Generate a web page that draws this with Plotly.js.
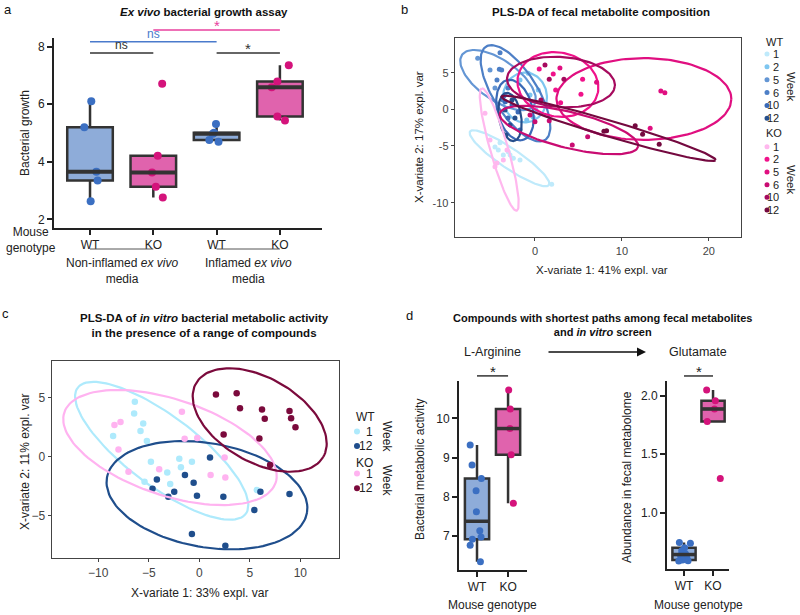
<!DOCTYPE html>
<html><head><meta charset="utf-8">
<script src="https://cdn.plot.ly/plotly-3.0.1.min.js"></script>
<style>body{margin:0;background:#fff}#chart{width:800px;height:615px}</style>
</head><body><div id="chart"></div>
<script>
// ---------------- Panel a data ----------------
const aTickText = ['WT','KO','WT','KO'];
const aWTNon = [6.10, 5.20, 3.65, 3.35, 2.63];
const aKONon = [6.71, 4.21, 3.63, 3.13, 2.76];
const aWTInf = [5.31, 5.01, 4.97, 4.76, 4.70];
const aKOInf = [7.35, 6.79, 6.59, 5.57, 5.43];
const aJitWTNon = [0.02, -0.09, 0.10, 0.12, 0.01];
const aJitKONon = [0.14, 0.07, -0.02, 0.04, 0.15];
const aJitWTInf = [-0.01, -0.04, -0.06, -0.115, 0.03];
const aJitKOInf = [0.14, -0.04, -0.13, -0.04, 0.08];
const aYTicks = [2, 4, 6, 8];

// ---------------- Panel b data (PLS-DA fecal) ----------------
const bWeeks = ['1','2','5','6','10','12'];
const bWTColors = ['#bfeafb','#7ec6f0','#6496d4','#4d7fc6','#3a69b6','#264f8c'];
const bKOColors = ['#ffb8ee','#f0128a','#e00f80','#c90c72','#a60a5e','#74093f'];
const bWTx = [
  [-4.02,-4.22,-3.64,-2.87,-2.49,-3.07,1.92,-4.60,-1.72],
  [-0.77,0.38,-0.95,-0.20,-0.57,-1.72,0.11],
  [-6.59,-5.17,-4.60,-3.45],
  [-4.02,-4.10,-3.83,-4.37,-3.68,-3.10],
  [-3.64,-3.41,-2.64,-1.95,-1.72,-3.10],
  [-3.45,-2.87,-3.33,-2.64,-2.30]
];
const bWTy = [
  [-4.58,-5.58,-6.26,-6.26,-6.71,-5.81,-10.27,-5.16,-6.95],
  [4.93,2.64,-1.47,-1.10,1.96,4.01,-0.10],
  [6.99,5.38,2.92,1.96],
  [7.75,5.48,5.38,4.01,1.27,2.92],
  [1.73,1.04,0.59,-0.37,-2.84,-1.19],
  [-0.10,-2.15,-3.52,1.27,-1.19]
];
const bKOx = [
  [-3.64,-4.37,-4.60,-5.75,-3.22,-5.17],
  [2.10,5.48,2.38,5.29,2.95,0.49],
  [14.48,14.94,13.25,7.09,2.87],
  [0.00,1.64,4.29,6.06,-0.57],
  [1.64,3.33,1.15,0.69],
  [8.24,7.93,11.53,12.38,14.29]
];
const bKOy = [
  [-6.95,-7.36,-7.86,-0.55,-5.58,-4.21],
  [4.84,4.11,2.64,2.05,0.90,5.52],
  [2.51,2.27,-2.60,3.70,5.66],
  [-1.70,-1.56,-4.89,-3.75,-0.78],
  [4.11,4.11,6.07,1.27],
  [-2.93,-3.01,-2.25,-3.42,-4.79]
];
// ellipse: centre, two conjugate semi-axis vectors (data units)
const bWTEll = [
  {c:[-2.93,-6.71], u:[4.54,-3.66], v:[-0.64,-1.14]},
  {c:[-1.15,1.62],  u:[2.53,0],     v:[0,-3.42]},
  {c:[-4.25,4.01],  u:[4.14,-3.45], v:[-1.32,-2.25]},
  {c:[-2.24,2.19],  u:[3.39,-6.40], v:[-2.14,-1.60]},
  {c:[-2.30,-0.10], u:[0.92,-4.10], v:[1.95,0.62]},
  {c:[-2.87,-1.05], u:[0.46,-3.29], v:[1.26,0.27]}
];
const bKOEll = [
  {c:[-4.11,-5.51], u:[-2.01,8.38], v:[0.99,0.33]},
  {c:[2.64,3.40],   u:[4.60,-1.10], v:[-0.72,-4.30]},
  {c:[12.53,1.41],  u:[10.06,0],    v:[0,-5.60]},
  {c:[3.91,-2.84],  u:[7.95,-2.29], v:[-0.49,-2.40]},
  {c:[2.99,3.74],   u:[6.20,-0.55], v:[-0.23,-3.42]},
  {c:[8.47,-2.61],  u:[12.30,-4.34],v:[-0.27,-1.05]}
];
const bXTicks = [0, 10, 20];
const bYTickVals = [5, 0, -5, -12.84];
const bYTickText = ['5', '0', '-5', '-10'];

// ---------------- Panel c data (PLS-DA in vitro) ----------------
const cWeeks = ['1','12'];
const cWTColors = ['#aeeafc','#1f4e8c'];
const cKOColors = ['#ffb3f0','#7b0a3c'];
const cWTx = [
  [-6.38,-6.45,-5.55,-5.82,-5.19,-8.53,-4.79,-1.98,-1.82,-0.73,-3.17,-2.88,-5.42,5.69],
  [1.06,-1.42,-4.20,-4.63,-2.48,-3.07,-0.56,-0.23,2.38,6.05,8.93,5.45,-0.73,2.58]
];
const cWTy = [
  [4.66,3.67,2.82,2.18,1.33,1.75,-0.42,-0.17,-0.90,-0.42,-1.33,-2.32,-2.12,-2.82],
  [-0.06,-1.55,-1.92,-2.71,-2.97,-3.39,-2.20,-3.31,-3.39,-2.97,-3.16,-4.52,-6.55,-7.54]
];
const cKOx = [
  [-8.40,-7.80,-8.00,-7.01,-3.97,-1.72,-1.45,-0.20,2.51,1.12,2.58],
  [1.65,3.70,4.03,6.21,6.48,8.93,9.09,9.52,2.41,5.95,7.01]
];
const cKOy = [
  [2.68,2.94,0.62,-1.27,-1.07,3.81,1.53,1.58,-0.06,-1.55,-1.75],
  [5.28,5.37,4.10,4.01,3.22,3.87,3.25,2.49,1.89,1.55,-0.71]
];
const cWTEll = [
  {c:[-3.72,0.50], u:[8.32,-5.34], v:[-2.08,-2.37]},
  {c:[0.76,-3.26], u:[9.90,-1.49], v:[-0.89,-4.34]}
];
const cKOEll = [
  {c:[-2.90,0.78], u:[10.46,-2.98], v:[-1.50,-3.86]},
  {c:[5.98,3.11],  u:[6.30,-3.12],  v:[-2.08,-3.08]}
];
const cXTicks = [-10,-5,0,5,10];
const cYTicks = [-5,0,5];

// ---------------- Panel d data ----------------
const dTickText = ['WT','KO'];
const dArgWT = [9.32, 8.81, 8.47, 8.16, 7.62, 7.14, 6.98, 6.92, 6.77, 6.35];
const dArgKO = [10.72, 10.24, 9.74, 9.07, 7.84];
const dArgJitWT = [-0.22, -0.16, 0.14, -0.03, -0.02, 0.09, 0.13, -0.15, -0.22, 0.11];
const dArgJitKO = [0.02, 0.07, 0.06, 0.10, 0.17];
const dGluWT = [0.745, 0.738, 0.700, 0.675, 0.650, 0.635, 0.610, 0.595, 0.590, 0.588];
const dGluKO = [2.048, 1.957, 1.886, 1.778, 1.293];
const dGluJitWT = [-0.16, 0.22, 0.02, -0.08, 0.05, -0.12, 0.10, -0.05, 0.14, -0.18];
const dGluJitKO = [-0.22, 0.08, 0.05, -0.2, 0.25];
const dArgTicks = [7, 8, 9, 10];
const dGluTicks = [1.0, 1.5, 2.0];
const dGluTickText = ['1.0', '1.5', '2.0'];

// ---------------- helpers ----------------
const W = 800, H = 615;
const FONT = 'Liberation Sans, Arial, sans-serif';
const px = x => x / W, py = y => 1 - y / H;
const frac = (r, v) => (v - r[0]) / (r[1] - r[0]);
const median = a => { const s = [...a].sort((p,q)=>p-q); const n = s.length; return n%2 ? s[(n-1)/2] : (s[n/2-1]+s[n/2])/2; };
function ellipse(e) {
  const xs = [], ys = [];
  for (let i = 0; i <= 120; i++) {
    const t = 2*Math.PI*i/120;
    xs.push(e.c[0] + e.u[0]*Math.cos(t) + e.v[0]*Math.sin(t));
    ys.push(e.c[1] + e.u[1]*Math.cos(t) + e.v[1]*Math.sin(t));
  }
  return {xs, ys};
}

const traces = [], shapes = [], annotations = [];
const ann = (o) => annotations.push(Object.assign({showarrow:false, xanchor:'center', yanchor:'middle',
  font:{family:FONT, size:12, color:'#222'}}, o));

// ---------------- Panel a ----------------
const aXR = [-0.569, 3.665], aYR = [1.70, 8.30];
const aSets = [aWTNon, aKONon, aWTInf, aKOInf];
const aJits = [aJitWTNon, aJitKONon, aJitWTInf, aJitKOInf];
const BOXW = '#8eacd9', BOXK = '#e063ad', PTW = '#3b6fc2', PTK = '#d4137b';
function boxTrace(vals, pos, xa, ya, width, isWT) {
  return {type:'box', x: vals.map(()=>pos), y: vals, xaxis:xa, yaxis:ya, width:width, quartilemethod:'inclusive',
    fillcolor: isWT ? BOXW : BOXK, line:{color:'#333', width:2.5}, whiskerwidth:0,
    boxpoints:'outliers', marker:{opacity:0, size:1}, hoverinfo:'skip'};
}
aSets.forEach((vals, i) => {
  const isWT = i % 2 === 0;
  traces.push(boxTrace(vals, i, 'x', 'y', 0.72, isWT));
  shapes.push({type:'line', xref:'x', yref:'y', x0:i-0.36, x1:i+0.36, y0:median(vals), y1:median(vals), line:{color:'#333', width:4}});
  traces.push({type:'scatter', mode:'markers', x: vals.map((v,k)=>i+aJits[i][k]), y: vals, xaxis:'x', yaxis:'y',
    marker:{size:8, color: isWT ? PTW : PTK}, hoverinfo:'skip', cliponaxis:false});
});
// significance brackets (panel a)
const aBr = [
  {a:0, b:1, y:7.78, color:'#333', txt:'ns'},
  {a:0, b:2, y:8.17, color:'#4a7acc', txt:'ns'},
  {a:1, b:3, y:8.58, color:'#e8409e', txt:'*'},
  {a:2, b:3, y:7.78, color:'#333', txt:'*'}
];
aBr.forEach(b => {
  shapes.push({type:'line', xref:'x domain', yref:'y domain', x0:frac(aXR,b.a), x1:frac(aXR,b.b), y0:frac(aYR,b.y), y1:frac(aYR,b.y), line:{color:b.color, width:1.5}});
  ann({xref:'x domain', yref:'y domain', x:frac(aXR,(b.a+b.b)/2), y:frac(aYR,b.y), yanchor:'bottom', text:b.txt,
    font:{family:FONT, size:b.txt==='*'?15:12, color:b.color}, yshift: b.txt==='*' ? -6 : -1});
});
// group labels
[[0,1,'Non-inflamed <i>ex vivo</i><br>media'],[2,3,'Inflamed <i>ex vivo</i><br>media']].forEach(g => {
  shapes.push({type:'line', xref:'x domain', yref:'paper', x0:frac(aXR,g[0]), x1:frac(aXR,g[1]), y0:py(249), y1:py(249), line:{color:'#555', width:1}});
  ann({xref:'x domain', yref:'paper', x:frac(aXR,(g[0]+g[1])/2), y:py(271), text:g[2]});
});
ann({xref:'paper', yref:'paper', x:px(31), y:py(240), text:'Mouse<br>genotype'});
ann({xref:'paper', yref:'paper', x:px(25), y:py(133), text:'Bacterial growth', textangle:-90});
ann({xref:'paper', yref:'paper', x:px(204), y:py(12), text:'<b><i>Ex vivo</i> bacterial growth assay</b>', font:{family:FONT, size:11.5, color:'#111'}});
ann({xref:'paper', yref:'paper', x:px(8), y:py(9), text:'a', font:{family:FONT, size:13, color:'#111'}});

// ---------------- Panel b ----------------
const bXR = [-9.2, 23.7], bYR = [-17.5, 9.77];
function addGroup(xa, ya, xs, ys, ell, colors, ms) {
  xs.forEach((xv, i) => {
    const e = ellipse(ell[i]);
    traces.push({type:'scatter', mode:'lines', x:e.xs, y:e.ys, xaxis:xa, yaxis:ya, line:{color:colors[i], width:2.2}, hoverinfo:'skip'});
    traces.push({type:'scatter', mode:'markers', x:xv, y:ys[i], xaxis:xa, yaxis:ya, marker:{size:ms, color:colors[i]}, hoverinfo:'skip'});
  });
}
addGroup('x2','y2', bWTx, bWTy, bWTEll, bWTColors, 5);
addGroup('x2','y2', bKOx, bKOy, bKOEll, bKOColors, 5);
ann({xref:'paper', yref:'paper', x:px(601), y:py(12), text:'<b>PLS-DA of fecal metabolite composition</b>', font:{family:FONT, size:11.5, color:'#111'}});
ann({xref:'paper', yref:'paper', x:px(602), y:py(270), text:'X-variate 1: 41% expl. var', font:{family:FONT, size:11.5, color:'#222'}});
ann({xref:'paper', yref:'paper', x:px(419), y:py(137), text:'X-variate 2: 17% expl. var', textangle:-90, font:{family:FONT, size:11.5, color:'#222'}});
ann({xref:'paper', yref:'paper', x:px(404), y:py(9), text:'b', font:{family:FONT, size:13, color:'#111'}});

function legend(x0, yHead, head, labels, colors, yStart, step, fs, textRight, mx, mr) {
  ann({xref:'paper', yref:'paper', x:px(x0), y:py(yHead), xanchor:'left', text:head, font:{family:FONT, size:fs, color:'#222'}});
  labels.forEach((l, i) => {
    const yy = yStart + i*step;
    shapes.push({type:'circle', xref:'paper', yref:'paper', x0:px(mx-mr), x1:px(mx+mr), y0:py(yy+mr), y1:py(yy-mr), fillcolor:colors[i], line:{width:0}});
    ann({xref:'paper', yref:'paper', x:px(textRight), y:py(yy), xanchor:'right', text:l, font:{family:FONT, size:fs, color:'#222'}});
  });
}
legend(764, 42, 'WT', bWeeks, bWTColors, 54, 12.85, 11, 781, 767, 2.5);
legend(764, 133.5, 'KO', bWeeks, bKOColors, 146.7, 12.65, 11, 781, 767, 2.5);
ann({xref:'paper', yref:'paper', x:px(791), y:py(86), text:'Week', textangle:90, font:{family:FONT, size:11.5, color:'#222'}});
ann({xref:'paper', yref:'paper', x:px(791), y:py(179), text:'Week', textangle:90, font:{family:FONT, size:11.5, color:'#222'}});

// ---------------- Panel c ----------------
const cXR = [-14.58, 13.83], cYR = [-8.58, 8.11];
addGroup('x3','y3', cWTx, cWTy, cWTEll, cWTColors, 6.5);
addGroup('x3','y3', cKOx, cKOy, cKOEll, cKOColors, 6.5);
ann({xref:'paper', yref:'paper', x:px(204), y:py(325), text:'<b>PLS-DA of <i>in vitro</i> bacterial metabolic activity<br>in the presence of a range of compounds</b>', font:{family:FONT, size:11.5, color:'#111'}});
ann({xref:'paper', yref:'paper', x:px(199.5), y:py(593), text:'X-variate 1: 33% expl. var', font:{family:FONT, size:12, color:'#222'}});
ann({xref:'paper', yref:'paper', x:px(25), y:py(462), text:'X-variate 2: 11% expl. var', textangle:-90, font:{family:FONT, size:12, color:'#222'}});
ann({xref:'paper', yref:'paper', x:px(5), y:py(313), text:'c', font:{family:FONT, size:13, color:'#111'}});
legend(354, 417, 'WT', cWeeks, cWTColors, 431.5, 14.5, 12, 375, 357, 3);
legend(354, 462.7, 'KO', cWeeks, cKOColors, 473.5, 14.8, 12, 375, 357, 3);
ann({xref:'paper', yref:'paper', x:px(387), y:py(436), text:'Week', textangle:90, font:{family:FONT, size:12, color:'#222'}});
ann({xref:'paper', yref:'paper', x:px(387), y:py(480), text:'Week', textangle:90, font:{family:FONT, size:12, color:'#222'}});

// ---------------- Panel d ----------------
const dLXR = [-0.58, 1.61], dLYR = [6.14, 10.95];
const dRXR = [-0.586, 1.55], dRYR = [0.519, 2.125];
function dBoxes(xa, ya, sets, jits, width) {
  sets.forEach((vals, i) => {
    const isWT = i === 0;
    traces.push(boxTrace(vals, i, xa, ya, width, isWT));
    shapes.push({type:'line', xref:xa, yref:ya, x0:i-width/2, x1:i+width/2, y0:median(vals), y1:median(vals), line:{color:'#333', width:3.5}});
    traces.push({type:'scatter', mode:'markers', x: vals.map((v,k)=>i+jits[i][k]), y: vals, xaxis:xa, yaxis:ya,
      marker:{size:7, color: isWT ? PTW : PTK}, hoverinfo:'skip', cliponaxis:false});
  });
}
dBoxes('x4','y4', [dArgWT, dArgKO], [dArgJitWT, dArgJitKO], 0.78);
dBoxes('x5','y5', [dGluWT, dGluKO], [dGluJitWT, dGluJitKO], 0.8);
[['x4','y4',dLXR,dLYR,11.08],['x5','y5',dRXR,dRYR,2.168]].forEach(s => {
  shapes.push({type:'line', xref:s[0]+' domain', yref:s[1]+' domain', x0:frac(s[2],0), x1:frac(s[2],1), y0:frac(s[3],s[4]), y1:frac(s[3],s[4]), line:{color:'#333', width:1.5}});
  ann({xref:s[0]+' domain', yref:s[1]+' domain', x:frac(s[2],0.5), y:frac(s[3],s[4]), yanchor:'bottom', text:'*', yshift:-6, font:{family:FONT, size:15, color:'#222'}});
});
ann({xref:'paper', yref:'paper', x:px(602), y:py(325), text:'<b>Compounds with shortest paths among fecal metabolites<br>and <i>in vitro</i> screen</b>', font:{family:FONT, size:11, color:'#111'}});
ann({xref:'paper', yref:'paper', x:px(492), y:py(352), text:'L-Arginine', font:{family:FONT, size:12.5, color:'#222'}});
ann({xref:'paper', yref:'paper', x:px(698), y:py(352), text:'Glutamate', font:{family:FONT, size:12.5, color:'#222'}});
annotations.push({xref:'paper', yref:'paper', x:px(646), y:py(352), ax:-99, ay:0, axref:'pixel', ayref:'pixel', text:'', showarrow:true, arrowhead:2, arrowsize:1.2, arrowwidth:1.5, arrowcolor:'#111'});
ann({xref:'paper', yref:'paper', x:px(420), y:py(470), text:'Bacterial metabolic activity', textangle:-90});
ann({xref:'paper', yref:'paper', x:px(627), y:py(477), text:'Abundance in fecal metabolome', textangle:-90});
ann({xref:'paper', yref:'paper', x:px(492), y:py(605), text:'Mouse genotype'});
ann({xref:'paper', yref:'paper', x:px(698), y:py(605), text:'Mouse genotype'});
ann({xref:'paper', yref:'paper', x:px(410), y:py(315), text:'d', font:{family:FONT, size:13, color:'#111'}});

// ---------------- axes ----------------
const spine = {showline:true, linewidth:2, linecolor:'#222', ticks:'outside', ticklen:5, tickwidth:2, tickcolor:'#222',
  showgrid:false, zeroline:false, fixedrange:true, tickfont:{family:FONT, size:12, color:'#222'}};
const frame = {showline:true, mirror:true, linewidth:1.3, linecolor:'#444', ticks:'outside', ticklen:3, tickwidth:1, tickcolor:'#444',
  showgrid:false, zeroline:false, fixedrange:true, tickfont:{family:FONT, size:11, color:'#444'}};
const layout = {
  width:W, height:H, margin:{l:0,r:0,t:0,b:0}, paper_bgcolor:'#fff', plot_bgcolor:'#fff', showlegend:false,
  font:{family:FONT}, boxmode:'overlay',
  xaxis: Object.assign({}, spine, {domain:[px(54),px(322)], range:aXR, anchor:'y', tickvals:[0,1,2,3], ticktext:aTickText}),
  yaxis: Object.assign({}, spine, {domain:[py(228),py(38)], range:aYR, anchor:'x', tickvals:aYTicks}),
  xaxis2: Object.assign({}, frame, {domain:[px(455),px(741)], range:bXR, anchor:'y2', tickvals:bXTicks}),
  yaxis2: Object.assign({}, frame, {domain:[py(237),py(38)], range:bYR, anchor:'x2', tickvals:bYTickVals, ticktext:bYTickText}),
  xaxis3: Object.assign({}, frame, {domain:[px(52),px(339)], range:cXR, anchor:'y3', tickvals:cXTicks, tickfont:{family:FONT,size:12,color:'#444'}}),
  yaxis3: Object.assign({}, frame, {domain:[py(558),py(361)], range:cYR, anchor:'x3', tickvals:cYTicks, tickfont:{family:FONT,size:12,color:'#444'}}),
  xaxis4: Object.assign({}, spine, {domain:[px(459),px(527)], range:dLXR, anchor:'y4', tickvals:[0,1], ticktext:dTickText}),
  yaxis4: Object.assign({}, spine, {domain:[py(570),py(381)], range:dLYR, anchor:'x4', tickvals:dArgTicks}),
  xaxis5: Object.assign({}, spine, {domain:[px(667),px(729)], range:dRXR, anchor:'y5', tickvals:[0,1], ticktext:dTickText}),
  yaxis5: Object.assign({}, spine, {domain:[py(569),py(381)], range:dRYR, anchor:'x5', tickvals:dGluTicks, ticktext:dGluTickText}),
  shapes, annotations
};
Plotly.newPlot('chart', traces, layout, {staticPlot:true, displayModeBar:false});
</script></body></html>
